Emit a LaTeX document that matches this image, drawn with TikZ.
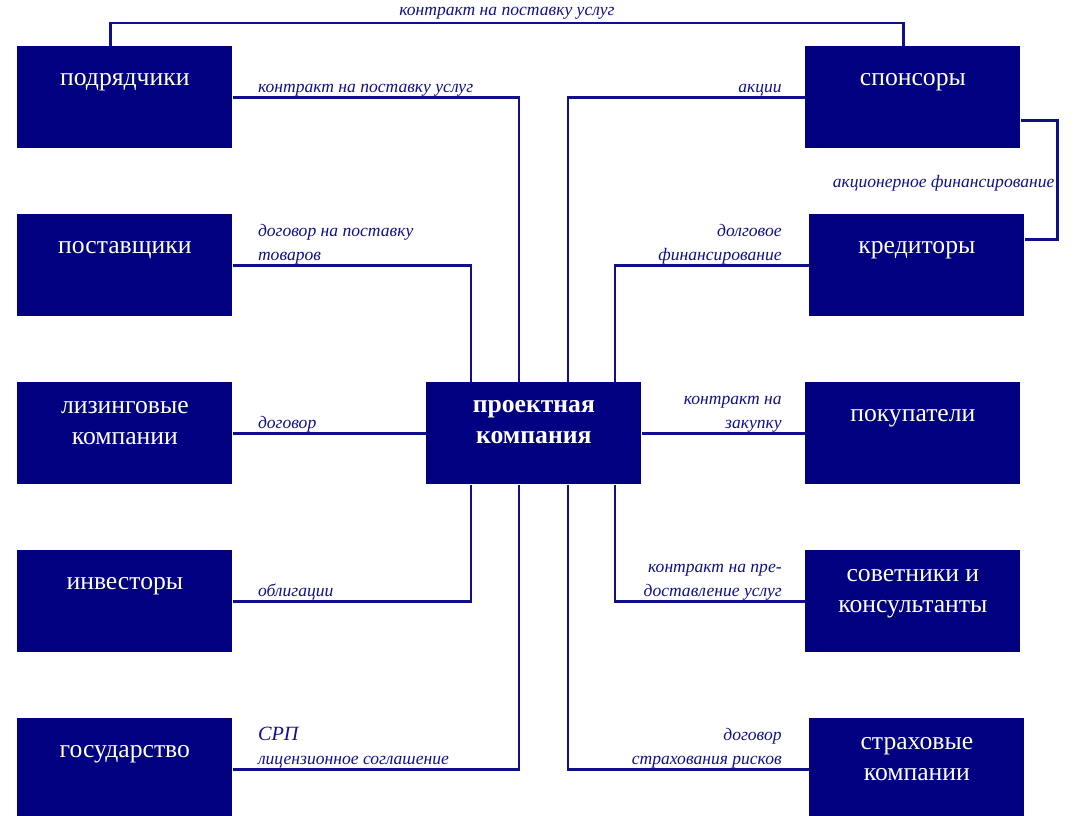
\documentclass[tikz,border=0pt]{standalone}
\usepackage{fontspec}
\setmainfont{Liberation Serif}
\usetikzlibrary{positioning}
\tikzstyle{chart} = [x = 0.2mm, y = -0.2mm]
\definecolor{boxColor}{RGB}{0,0,128}
\definecolor{lineColor}{RGB}{16,16,136}
\tikzstyle{party} = [fill=boxColor, draw=none, anchor=north west, minimum width=43mm, minimum height=20.4mm, inner sep=0pt]
\tikzstyle{partyText} = [text=white, font=\fontsize{14.6}{17.5}\selectfont, align=center, inner sep=0pt]
\tikzstyle{link} = [color=lineColor, line width=1.5pt]
\tikzstyle{linkText} = [text=lineColor, font=\fontsize{10}{13.6}\selectfont\itshape, inner sep=0pt]
\newcommand{\partyBox}[4]{\node [party, label={[partyText, below=#4]north:#3}] (#1) at (#2) {};}

\begin{document}
\begin{tikzpicture}[chart]
          \useasboundingbox (0,0) rectangle (1074,815);
          % left column
          \partyBox{contractors}{17,46}{подрядчики}{5.5mm}
          \partyBox{suppliers}{17,214}{поставщики}{5.5mm}
          \partyBox{lessors}{17,382}{лизинговые\\компании}{3.9mm}
          \partyBox{investors}{17,550}{инвесторы}{5.5mm}
          \partyBox{state}{17,718}{государство}{5.5mm}
          % right column
          \partyBox{sponsors}{805,46}{спонсоры}{5.5mm}
          \partyBox{lenders}{809,214}{кредиторы}{5.5mm}
          \partyBox{buyers}{805,382}{покупатели}{5.5mm}
          \partyBox{advisers}{805,550}{советники и\\консультанты}{3.9mm}
          \partyBox{insurers}{809,718}{страховые\\компании}{3.9mm}
          % centre
          \partyBox{project}{426,382}{\bfseries проектная\\\bfseries компания}{3.6mm}

          \draw [link] ([xshift=-2.9mm]contractors.north) -- ++(0,-23) -| node [linkText, pos=0.25, above=0.4mm] {контракт на поставку услуг} ([xshift=-1.9mm]sponsors.north);
          \draw [link] ([yshift=-4.6mm]sponsors.east) -- ++(37,0) |- node [linkText, pos=0.25, anchor=east, xshift=-0.4mm, yshift=-0.6mm] {акционерное финансирование} ([yshift=5.2mm]lenders.east);

          \draw [link] (contractors.east) node [linkText, anchor=south west, xshift=4.8mm] {контракт на поставку услуг} -| ([xshift=-3mm]project.north);
          \draw [link] (suppliers.east) node [linkText, anchor=south west, xshift=4.8mm, align=left] {договор на поставку\\товаров} -| ([xshift=-12.6mm]project.north);
          \draw [link] (lessors.east) node [linkText, anchor=south west, xshift=4.8mm] {договор} -- (project.west);
          \draw [link] (investors.east) node [linkText, anchor=south west, xshift=4.8mm] {облигации} -| ([xshift=-12.6mm]project.south);
          \draw [link] (state.east) node [linkText, anchor=south west, xshift=4.8mm, align=left] {{\fontsize{11.5}{13.6}\selectfont СРП}\\лицензионное соглашение} -| ([xshift=-3mm]project.south);

          \draw [link] (sponsors.west) node [linkText, anchor=south east, xshift=-4.4mm] {акции} -| ([xshift=6.8mm]project.north);
          \draw [link] (lenders.west) node [linkText, anchor=south east, xshift=-5.2mm, align=right] {долговое\\финансирование} -| ([xshift=16.2mm]project.north);
          \draw [link] (project.east) -- (buyers.west) node [linkText, anchor=south east, xshift=-4.4mm, align=right] {контракт на\\закупку};
          \draw [link] ([xshift=16.2mm]project.south) |- (advisers.west) node [linkText, anchor=south east, xshift=-4.4mm, align=right] {контракт на пре-\\доставление услуг};
          \draw [link] ([xshift=6.8mm]project.south) |- (insurers.west) node [linkText, anchor=south east, xshift=-5.2mm, align=right] {договор\\страхования рисков};
        \end{tikzpicture}
\end{document}
